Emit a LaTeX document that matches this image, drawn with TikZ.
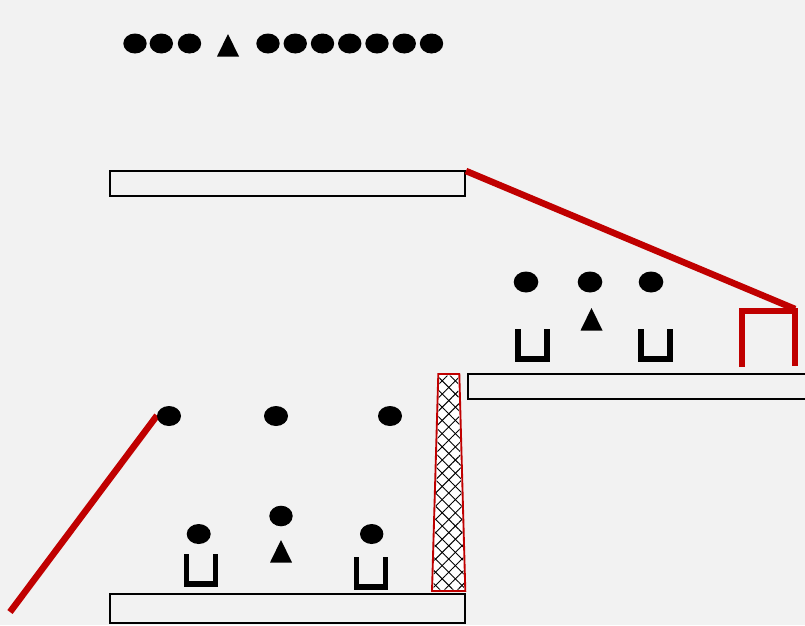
\documentclass[tikz,border=0pt]{standalone}
\usetikzlibrary{patterns.meta}
\definecolor{bg}{HTML}{F2F2F2}
\definecolor{dred}{HTML}{C00000}
\begin{document}
\begin{tikzpicture}[x=0.75pt,y=-0.75pt,
  plate/.style={draw=black,line width=1.9pt,fill=bg},
  redline/.style={draw=dred,line width=4.9pt},
  redbracket/.style={draw=dred,line width=4pt,line join=miter},
  tri/.pic={\fill[black] (-11,11) -- (0,-11.5) -- (11,11) -- cycle;},
  cup/.pic={\draw[black,line width=4pt,line join=miter] (-14.5,-16) -- (-14.5,14) -- (14.5,14) -- (14.5,-16);}
]
\fill[bg] (0,0) rectangle (805,625);
\useasboundingbox (0,0) rectangle (805,625);
\clip (0,0) rectangle (805,625);

% top row
\foreach \x in {135,161.3,189.5,268,295.25,322.5,349.75,377,404.25,431.5}
  \fill[black] (\x,43.5) ellipse [x radius=11.7, y radius=10];
\pic at (228,45.5) {tri};

% plates
\draw[plate] (110,171) rectangle (465,196);
\draw[plate] (468,374) rectangle (812,399);
\draw[plate] (110,594) rectangle (465,623);

% red connectors
\coordinate (ra) at (466,171);
\coordinate (rb) at (795,309);
\draw[redline] (ra) -- (rb);
\coordinate (bl) at (742,367);
\coordinate (br) at (795,366);
\draw[redbracket] (bl) -- (742,311) -- (795,311) -- (br);
\coordinate (la) at (157,415.5);
\coordinate (lb) at (10,612);
\draw[redline] (la) -- (lb);

% right group
\foreach \x in {526,590,651}
  \fill[black] (\x,282) ellipse [x radius=12.3, y radius=10.5];
\pic at (591.5,319.5) {tri};
\pic at (532.5,345) {cup};
\pic at (655.5,345) {cup};

% lower group
\foreach \x in {169,276,390}
  \fill[black] (\x,416) ellipse [x radius=12, y radius=10];
\fill[black] (198.7,534) ellipse [x radius=12, y radius=10];
\fill[black] (281,516) ellipse [x radius=11.7, y radius=10.3];
\fill[black] (371.7,534) ellipse [x radius=11.7, y radius=10];
\pic at (281,551.5) {tri};
\pic at (201,570) {cup};
\pic at (371,573) {cup};

% hatched wedge
\filldraw[fill=white,draw=dred,line width=1.4pt]
  (438.3,374) -- (459.3,374) -- (465.3,591) -- (432,591) -- cycle;
\fill[pattern={Lines[angle=45,distance=7pt,line width=0.7pt]},pattern color=black]
  (439.5,375.5) -- (458,375.5) -- (464,589.5) -- (433.5,589.5) -- cycle;
\fill[pattern={Lines[angle=-45,distance=7pt,line width=0.7pt]},pattern color=black]
  (439.5,375.5) -- (458,375.5) -- (464,589.5) -- (433.5,589.5) -- cycle;
\end{tikzpicture}
\end{document}
